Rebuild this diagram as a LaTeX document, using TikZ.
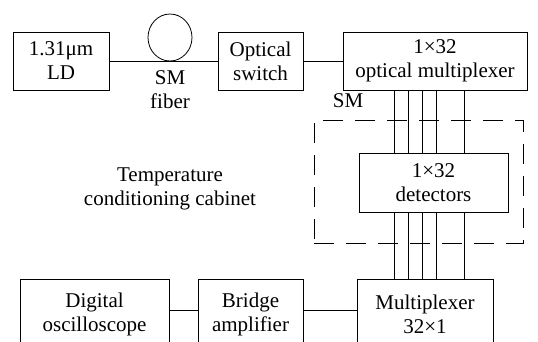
\documentclass[tikz,border=0pt]{standalone}
\usepackage{fontspec}
\setmainfont{Liberation Serif}
\usetikzlibrary{shapes.geometric}
\begin{document}
\begin{tikzpicture}[x=1pt,y=-1pt,
  font=\fontsize{21}{24}\selectfont,
  box/.style={draw, line width=0.8pt, inner sep=0pt, align=center},
  lbl/.style={inner sep=0pt, align=center},
  wire/.style={line width=0.8pt},
  cab/.style={line width=0.8pt, dash pattern=on 20pt off 12pt}]
\clip (0,0) rectangle (538,341);
% top row
\node[box, minimum width=96pt, minimum height=58pt] (ld) at (61,61) {1.31μm\\LD};
\node[box, minimum width=85pt, minimum height=58pt] (sw) at (260.5,61) {Optical\\switch};
\node[box, minimum width=184pt, minimum height=58pt] (mux) at (435,61) {1×32\\optical multiplexer};
\node[draw, ellipse, line width=0.8pt, inner sep=0pt, minimum width=44pt, minimum height=47pt] (coil) at (170,37.5) {};
\node[lbl] (smf) at (170,90) {SM\\fiber};
\node[lbl] (sm) at (348,101) {SM};
\draw[wire] (ld) -- (sw);
\draw[wire] (sw) -- (mux);
% cabinet
\node[draw, cab, minimum width=209pt, minimum height=123pt, inner sep=0pt] (cabinet) at (418.5,181.5) {};
\node[box, minimum width=149pt, minimum height=59pt] (det) at (433.5,182.5) {1×32\\detectors};
\node[lbl] (temp) at (170,189) {Temperature\\conditioning cabinet};
% bottom row
\node[box, minimum width=149pt, minimum height=70pt] (osc) at (94.5,314) {Digital\\oscilloscope};
\node[box, minimum width=105pt, minimum height=70pt] (amp) at (250.5,314) {Bridge\\amplifier};
\node[box, minimum width=136pt, minimum height=70pt] (mux2) at (425,314) {Multiplexer\\32×1};
\draw[wire] (osc.east |- 0,310) -- (amp.west |- 0,310);
\draw[wire] (amp.east |- 0,310) -- (mux2.west |- 0,310);
% parallel fibers / wires
\foreach \xx in {394,408,422,436,464} {
  \draw[wire] (mux.south -| \xx,0) -- (det.north -| \xx,0);
  \draw[wire] (det.south -| \xx,0) -- (mux2.north -| \xx,0);
}
\end{tikzpicture}
\end{document}
